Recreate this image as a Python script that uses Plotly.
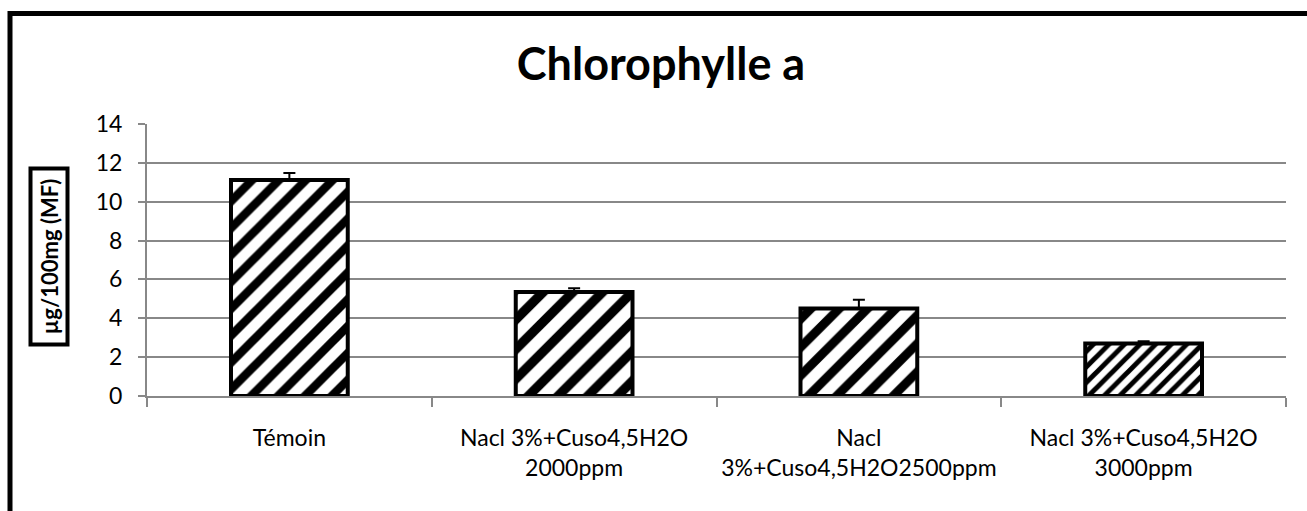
import plotly.graph_objects as go

categories = ["Témoin", "Nacl 3%+Cuso4,5H2O<br>2000ppm", "Nacl<br>3%+Cuso4,5H2O2500ppm", "Nacl 3%+Cuso4,5H2O<br>3000ppm"]
values = [11.12, 5.35, 4.50, 2.70]
errors = [0.36, 0.2, 0.45, 0.12]
y_ticks = [0, 2, 4, 6, 8, 10, 12, 14]

font = "Lato"

fig = go.Figure()
fig.add_trace(go.Bar(
    x=categories,
    y=values,
    width=0.41,
    marker=dict(
        color="white",
        line=dict(color="black", width=4),
        pattern=dict(shape="/", fgcolor="black", bgcolor="white",
                     size=[19, 21, 20, 11], solidity=0.45, fillmode="replace"),
    ),
    error_y=dict(type="data", array=errors, arrayminus=[0] * 4, symmetric=False,
                 color="black", thickness=2, width=6),
))

# pixel -> paper helpers for the frame and y title box
L, R, T, B = 147, 1286, 124, 396
def px(p):
    return (p - L) / (R - L)
def py(p):
    return (B - p) / (B - T)

fig.add_shape(type="rect", xref="paper", yref="paper",
              x0=px(10), x1=px(1330), y0=py(13.5), y1=py(540),
              line=dict(color="black", width=5), fillcolor="rgba(0,0,0,0)")

fig.add_annotation(text="<b>&nbsp;µg/100mg (MF)&nbsp;</b>", xref="paper", yref="paper",
                   x=px(48.5), y=py(256), xanchor="center", yanchor="middle",
                   textangle=-90, showarrow=False,
                   font=dict(family=font, size=22, color="black"),
                   bordercolor="black", borderwidth=4, borderpad=3, bgcolor="white")

fig.update_layout(
    width=1307, height=511,
    margin=dict(l=L, r=1307 - R, t=T, b=511 - B, autoexpand=False),
    paper_bgcolor="white", plot_bgcolor="white",
    showlegend=False,
    title=dict(text="<b>Chlorophylle a</b>", x=px(661), xref="paper", xanchor="center",
               y=1 - 64 / 511, yanchor="middle",
               font=dict(family=font, size=45, color="black")),
    font=dict(family=font, size=22, color="black"),
)
fig.update_xaxes(showline=True, linecolor="#888888", linewidth=2, automargin=False, tickangle=0,
                 ticks="outside", tickson="boundaries", ticklen=9, tickcolor="#888888", tickwidth=2,
                 tickfont=dict(family=font, size=23), ticklabelstandoff=20, showgrid=False)
fig.update_yaxes(range=[0, 14], tickvals=y_ticks, showline=True, linecolor="#888888", linewidth=2,
                 automargin=False,
                 ticks="outside", ticklen=7, tickcolor="#888888", tickwidth=2,
                 gridcolor="#888888", gridwidth=2, zeroline=False,
                 tickfont=dict(family=font, size=23), ticklabelstandoff=11)

fig.write_html("out.html", config={"displayModeBar": False},
               post_script="document.body.style.margin='0';")
